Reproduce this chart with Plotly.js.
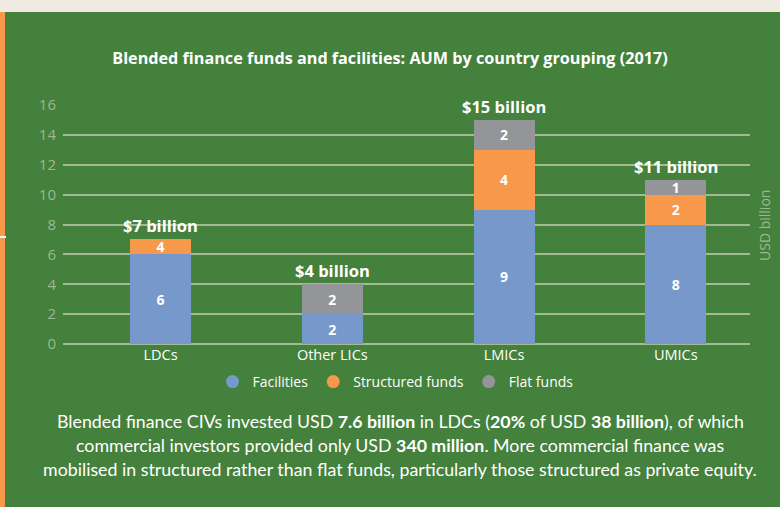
<!DOCTYPE html>
<html>
<head>
<meta charset="utf-8">
<script src="https://cdn.plot.ly/plotly-3.0.1.min.js"></script>
<style>html,body{margin:0;padding:0;background:#44813c;}#chart{width:780px;height:507px;}</style>
</head>
<body>
<div id="chart"></div>
<script>
var categories = ["LDCs", "Other LICs", "LMICs", "UMICs"];
var facilities = [6, 2, 9, 8];
var structured = [1, 0, 4, 2];
var flat = [0, 2, 2, 1];
var facilitiesLabels = ["6", "2", "9", "8"];
var structuredLabels = ["4", "", "4", "2"];
var flatLabels = ["", "2", "2", "1"];
var totalLabels = ["$7 billion", "$4 billion", "$15 billion", "$11 billion"];
var yTicks = [0, 2, 4, 6, 8, 10, 12, 14, 16];

var colFac = "#7698cb", colStr = "#f7984a", colFlat = "#939598";
var bg = "#44813c", grid = "#a2bb93", tickCol = "#9fb78f";
var fontFam = "'Open Sans', Lato, sans-serif";
var bodyFam = "Lato, 'Open Sans', sans-serif";

function barTrace(name, vals, labels, color) {
  return {
    type: "bar", name: name, x: categories, y: vals, text: labels,
    textposition: "inside", insidetextanchor: "middle", textangle: 0,
    textfont: {color: "#ffffff", size: 14, family: fontFam, weight: "bold"},
    marker: {color: color, line: {width: 0}}, width: 0.355,
    showlegend: false, hoverinfo: "skip", cliponaxis: false
  };
}
function legendTrace(name, color) {
  return {
    type: "scatter", mode: "markers", name: name, x: [null], y: [null],
    marker: {color: color, size: 13, symbol: "circle"}, showlegend: true
  };
}

var data = [
  barTrace("Facilities", facilities, facilitiesLabels, colFac),
  barTrace("Structured funds", structured, structuredLabels, colStr),
  barTrace("Flat funds", flat, flatLabels, colFlat),
  legendTrace("Facilities", colFac),
  legendTrace("Structured funds", colStr),
  legendTrace("Flat funds", colFlat)
];

var totals = categories.map(function(c, i){ return facilities[i] + structured[i] + flat[i]; });
var annotations = categories.map(function(c, i){
  return {x: c, y: totals[i], xref: "x", yref: "y", text: "<b>" + totalLabels[i] + "</b>",
    showarrow: false, yanchor: "bottom", yshift: 0,
    font: {color: "#ffffff", size: 16.5, family: fontFam}};
});
annotations.push({xref: "paper", yref: "paper", x: (764 - 63) / 687, y: (344 - 225) / 239, xanchor: "center", yanchor: "middle",
  text: "USD billion", textangle: -90, showarrow: false, font: {color: tickCol, size: 14, family: fontFam}});

var bottomLines = [
  "Blended finance CIVs invested USD <b>7.6 billion</b> in LDCs (<b>20%</b> of USD <b>38 billion</b>), of which",
  "commercial investors provided only USD <b>340 million</b>. More commercial finance was",
  "mobilised in structured rather than flat funds, particularly those structured as private equity."
];
var lineY = [421, 445, 469];
bottomLines.forEach(function(t, i){
  annotations.push({xref: "paper", yref: "paper", x: (400 - 63) / 687, y: (344 - lineY[i]) / 239,
    xanchor: "center", yanchor: "middle", text: t, showarrow: false,
    font: {color: "#ffffff", size: 17.8, family: bodyFam}});
});

var layout = {
  width: 780, height: 507,
  paper_bgcolor: bg, plot_bgcolor: bg,
  margin: {l: 63, r: 30, t: 105, b: 163},
  barmode: "stack", bargap: 0,
  title: {text: "<b>Blended finance funds and facilities: AUM by country grouping (2017)</b>",
    font: {color: "#ffffff", size: 16.2, family: fontFam}, x: 0.5, xanchor: "center", y: 1 - 58/507, yanchor: "middle"},
  xaxis: {type: "category", range: [-0.568, 3.432], showgrid: false, zeroline: false, showline: false,
    ticks: "", tickfont: {color: "#ffffff", size: 14.5, family: fontFam}, fixedrange: true},
  yaxis: {range: [0, 16], tickvals: yTicks, ticktext: yTicks.map(String), showgrid: true, gridcolor: grid, gridwidth: 2,
    zeroline: true, zerolinecolor: grid, zerolinewidth: 2, showline: false, ticks: "",
    tickfont: {color: tickCol, size: 15, family: fontFam}, ticklabelstandoff: 6, fixedrange: true},
  legend: {orientation: "h", traceorder: "normal", x: 0.484, xanchor: "center", y: (344 - 382) / 239, yanchor: "middle",
    font: {color: "#ffffff", size: 14, family: fontFam}, bgcolor: "rgba(0,0,0,0)", itemwidth: 30},
  uniformtext: {mode: "show", minsize: 14},
  annotations: annotations,
  shapes: [
    {type: "rect", xref: "paper", yref: "paper", x0: -0.1, x1: 1.1, y0: (344 - 12) / 239, y1: (344 + 0) / 239 + 0.01,
      fillcolor: "#efebe2", line: {width: 0}, layer: "below"},
    {type: "rect", xref: "paper", yref: "paper", x0: -0.1, x1: (5 - 63) / 687, y0: (344 - 507) / 239 - 0.01, y1: (344 - 12) / 239,
      fillcolor: "#f7984a", line: {width: 0}, layer: "below"},
    {type: "line", xref: "paper", yref: "paper", x0: -0.1, x1: (6 - 63) / 687, y0: (344 - 237) / 239, y1: (344 - 237) / 239,
      line: {color: "#ffffff", width: 2}}
  ]
};

Plotly.newPlot("chart", data, layout, {displayModeBar: false, staticPlot: true});
</script>
</body>
</html>
